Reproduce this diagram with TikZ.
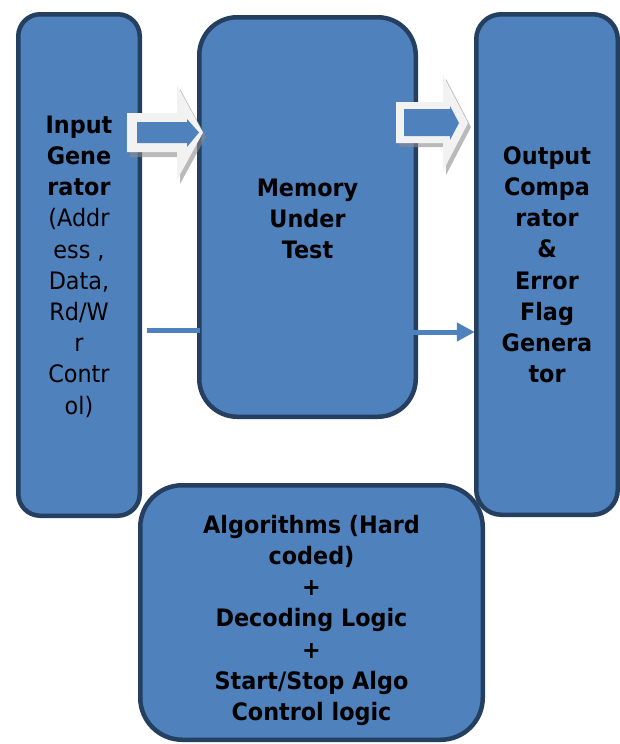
\documentclass[tikz,border=0pt]{standalone}
\usepackage{fontspec}
\setmainfont{DejaVu Sans}[FakeStretch=0.93]
\usetikzlibrary{arrows.meta}
\definecolor{boxfill}{HTML}{4F81BD}
\definecolor{boxline}{HTML}{243F60}
\definecolor{arrlight}{HTML}{F2F2F2}
\definecolor{arrshadow}{HTML}{8C8C8C}
\begin{document}
\begin{tikzpicture}[x=1pt,y=-1pt,
  box/.style={draw=boxline, fill=boxfill, line width=4.5pt, inner sep=0pt, rectangle},
  txt/.style={font=\fontsize{24}{31.2}\selectfont, align=center, inner sep=0pt, anchor=north, text=black},
  btxt/.style={txt, font=\fontsize{24}{31.2}\selectfont\bfseries},
  blockarrow/.style={fill=arrlight, draw=none},
  blockshadow/.style={fill=arrshadow, draw=none, opacity=0.6},
  blockface/.style={fill=boxfill, draw=none},
  conn/.style={draw=boxfill, line width=5pt, line cap=butt}
]
\useasboundingbox (0,0) rectangle (620,744);
\fill[white] (0,0) rectangle (620,744);

% boxes
\node[box, rounded corners=22pt, minimum width=121.5pt, minimum height=501.5pt] (inp) at (79,265) {};
\node[box, rounded corners=42pt, minimum width=342.5pt, minimum height=254.5pt] (alg) at (311.5,612.5) {};
\node[box, rounded corners=38pt, minimum width=216.5pt, minimum height=399.5pt] (mut) at (307.5,217) {};
\node[box, rounded corners=25pt, minimum width=141.5pt, minimum height=500.5pt] (out) at (547,264.5) {};

% block arrow 1 (input -> memory)
\fill[blockshadow] (130,117) -- (180,117) -- (180,89) -- (206,136.5) -- (180,184) -- (180,157) -- (130,157) -- cycle;
\fill[blockarrow] (127,113) -- (177,113) -- (177,85) -- (203,132.5) -- (177,180) -- (177,152) -- (127,152) -- cycle;
\fill[blockface] (137,122) -- (187,122) -- (187,119) -- (199,132.5) -- (187,147) -- (187,143) -- (137,143) -- cycle;

% block arrow 2 (memory -> output)
\fill[blockshadow] (399,106) -- (446,106) -- (446,79) -- (471,127) -- (446,175) -- (446,147) -- (399,147) -- cycle;
\fill[blockarrow] (396,102) -- (443,102) -- (443,75) -- (468,123) -- (443,171) -- (443,143) -- (396,143) -- cycle;
\fill[blockface] (404,109) -- (450,109) -- (450,106) -- (459,123) -- (450,140) -- (450,136) -- (404,136) -- cycle;

% thin connectors
\coordinate (l1) at (147,330);
\coordinate (l2) at (413,332);
\draw[conn] (l1) -- ([xshift=2.75pt]l1 -| mut.west);
\draw[conn, -{Triangle[length=18pt,width=18pt]}] (l2) -- ([xshift=0.75pt]l2 -| out.west);

% texts
\node[txt] (inptxt) at (79,115.5) {\textbf{Input}\\\textbf{Gene}\\\textbf{rator}\\(Addr\\ess ,\\Data,\\Rd/W\\r\\Contr\\ol)};
\node[btxt] (muttxt) at (307.5,178.5) {Memory\\Under\\Test};
\node[btxt] (outtxt) at (547,146.2) {Output\\Compa\\rator\\\&\\Error\\Flag\\Genera\\tor};
\node[btxt] (algtxt) at (311.5,514.8) {Algorithms (Hard\\coded)\\+\\Decoding Logic\\+\\Start/Stop Algo\\Control logic};
\end{tikzpicture}
\end{document}
